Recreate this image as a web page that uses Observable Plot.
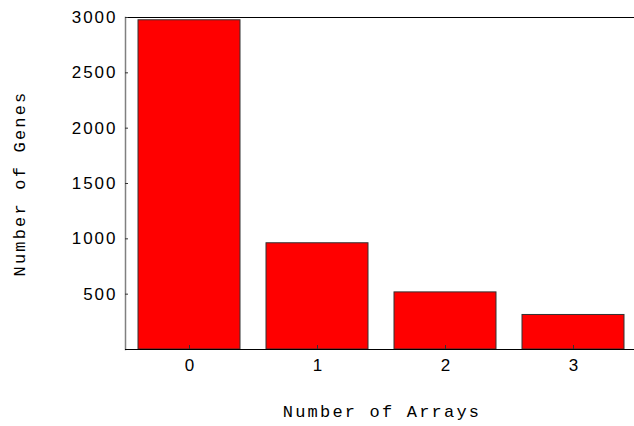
<!DOCTYPE html>
<html><head><meta charset="utf-8">
<script src="https://cdn.jsdelivr.net/npm/d3@7"></script>
<script src="https://cdn.jsdelivr.net/npm/@observablehq/plot@0.6"></script>
<style>
html,body{margin:0;padding:0;overflow:hidden;background:#fff;width:634px;height:426px}
#chart svg{display:block;max-width:none !important}
</style>
</head><body><div id="chart"></div>
<script>
const arrays = ["0", "1", "2", "3"];
const genes = [2975, 960, 516, 312];
const yTicks = [500, 1000, 1500, 2000, 2500, 3000];
const xTitle = "Number of Arrays";
const yTitle = "Number of Genes";

const data = arrays.map((a, i) => ({arrays: a, genes: genes[i]}));
const tickFont = "Liberation Sans";
const titleFont = "Liberation Mono";

const chart = Plot.plot({
  width: 640, height: 426,
  marginLeft: 125, marginRight: 2, marginTop: 17, marginBottom: 77,
  x: {domain: arrays, paddingInner: 0.2, paddingOuter: 0.1, label: null},
  y: {domain: [0, 3000], label: null},
  style: {background: "white", color: "black", maxWidth: "none"},
  marks: [
    Plot.barY(data, {x: "arrays", y: "genes", fill: "#ff0000", stroke: "#333", strokeWidth: 1}),
    Plot.frame({anchor: "left", stroke: "#808080", strokeWidth: 1.5}),
    Plot.frame({anchor: "bottom", stroke: "#000"}),
    Plot.frame({anchor: "top", stroke: "#000"}),
    Plot.axisY(yTicks, {tickSize: 0, tickPadding: 8, tickFormat: d3.format("d"), fontFamily: tickFont, fontSize: 17, label: null}),
    Plot.axisY(yTicks, {tickSize: -3, tickFormat: () => "", label: null, stroke: "#333"}),
    Plot.axisX({tickSize: 0, tickPadding: 9, fontFamily: tickFont, fontSize: 17, label: null}),
    Plot.axisX({tickSize: -4, tickFormat: () => "", label: null, stroke: "#333"}),
    Plot.text([xTitle], {frameAnchor: "bottom", dy: 67, textAnchor: "middle", fontFamily: titleFont, fontSize: 17, fill: "black"}),
    Plot.text([yTitle], {frameAnchor: "left", dx: -106, rotate: -90, textAnchor: "middle", lineAnchor: "middle", fontFamily: titleFont, fontSize: 17, fill: "black"})
  ]
});
document.getElementById("chart").appendChild(chart);
d3.select(chart).selectAll('g[aria-label="text"] text').style("letter-spacing", "2.2px");
d3.select(chart).selectAll('g[aria-label="y-axis tick label"] text').style("letter-spacing", "2px");
</script>
</body></html>
